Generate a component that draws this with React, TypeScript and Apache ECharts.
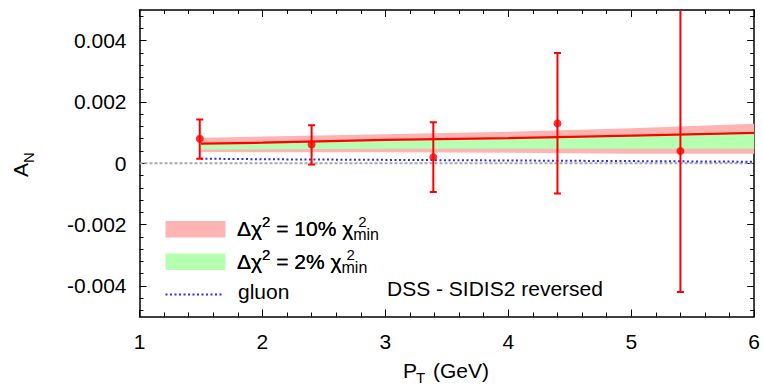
import React, { useEffect, useRef } from "react";
import * as echarts from "echarts";

// Transverse momentum grid for the model curves
const ptGrid = [1.5, 2, 3, 4, 5, 6];
// Central fit and uncertainty bands of A_N
const centralFit = [0.00064, 0.00067, 0.00076, 0.00082, 0.0009, 0.00099];
const band10Low = [0.00037, 0.00036, 0.00036, 0.00034, 0.00031, 0.00031];
const band10High = [0.00083, 0.00087, 0.00095, 0.00103, 0.00114, 0.00129];
const band2Low = [0.00045, 0.00046, 0.00047, 0.00047, 0.00047, 0.00047];
const band2High = [0.00066, 0.00069, 0.00078, 0.00085, 0.00094, 0.00104];
const gluonCurve = [0.00015, 0.00013, 0.00011, 0.00009, 0.00007, 0.00005];

// Measured points with error bars
const dataPt = [1.49, 2.4, 3.39, 4.4, 5.4];
const dataAN = [0.0008, 0.00061, 0.0002, 0.0013, 0.0004];
const dataLow = [0.00015, -0.00004, -0.00094, -0.00099, -0.0042];
const dataHigh = [0.00143, 0.00124, 0.00134, 0.0036, 0.0052];

// Axis ticks
const yMajorTicks = [-0.004, -0.002, 0, 0.002, 0.004];
const yMinorTicks = [
  -0.0048, -0.0044, -0.0036, -0.0032, -0.0028, -0.0024, -0.0016, -0.0012,
  -0.0008, -0.0004, 0.0004, 0.0008, 0.0012, 0.0016, 0.0024, 0.0028, 0.0032,
  0.0036, 0.0044, 0.0048,
];
const zeroLine = [
  [1, 0],
  [6, 0],
];

const FONT = "'Liberation Sans', Arial, Helvetica, sans-serif";
const RED = "#ff0000";
const PINK = "#ffb4b4";
const GREEN = "#b4ffb0";
const BLUE = "#2b2bff";

function bandSeries(name: string, low: number[], high: number[], color: string, z: number) {
  return {
    name,
    type: "custom",
    z,
    silent: true,
    encode: { x: 0, y: [1, 2] },
    data: ptGrid.map((x, i) => [x, low[i], high[i]]),
    renderItem: (params: any, api: any) => {
      if (params.dataIndex !== 0) return { type: "group", children: [] };
      const upper = ptGrid.map((x, i) => api.coord([x, high[i]]));
      const lower = ptGrid.map((x, i) => api.coord([x, low[i]])).reverse();
      return {
        type: "polygon",
        shape: { points: upper.concat(lower) },
        style: { fill: color, stroke: "none" },
      };
    },
  };
}

function yAxisDef(position: string, values: number[], len: number, main: boolean) {
  return {
    type: "value",
    position,
    min: -0.005,
    max: 0.005,
    splitLine: { show: false },
    axisLine: { show: main, onZero: false, lineStyle: { color: "#000", width: 1.5 } },
    axisTick: {
      show: true,
      inside: true,
      length: len,
      customValues: values,
      lineStyle: { color: "#000", width: 1 },
    },
    minorTick: { show: false },
    axisLabel:
      main && position === "left"
        ? {
            show: true,
            customValues: yMajorTicks,
            margin: 13,
            color: "#000",
            fontSize: 21,
            fontFamily: FONT,
            formatter: (v: number) => (Math.abs(v) < 1e-12 ? "0" : v.toFixed(3)),
          }
        : { show: false },
  };
}

function xAxisDef(position: string, labels: boolean) {
  return {
    type: "value",
    position,
    min: 1,
    max: 6,
    interval: 1,
    splitLine: { show: false },
    axisLine: { show: true, onZero: false, lineStyle: { color: "#000", width: 1.5 } },
    axisTick: { show: true, inside: true, length: 7, lineStyle: { color: "#000", width: 1 } },
    minorTick: { show: true, splitNumber: 5, length: 4, lineStyle: { color: "#000", width: 1 } },
    axisLabel: labels
      ? { show: true, margin: 14, color: "#000", fontSize: 21, fontFamily: FONT }
      : { show: false },
  };
}

const eqRich = {
  m: { fontSize: 21, lineHeight: 28, fontFamily: FONT, color: "#000" },
  sup: { fontSize: 15, lineHeight: 14, verticalAlign: "top", fontFamily: FONT, color: "#000" },
  sub: { fontSize: 16, lineHeight: 8, verticalAlign: "bottom", fontFamily: FONT, color: "#000" },
  g: { fontSize: 21, lineHeight: 28, fontFamily: FONT, color: "rgba(0,0,0,0)" },
  gs: { fontSize: 15, lineHeight: 14, verticalAlign: "top", fontFamily: FONT, color: "rgba(0,0,0,0)" },
  sup2: {
    fontSize: 15,
    lineHeight: 14,
    verticalAlign: "top",
    fontFamily: FONT,
    color: "#000",
    padding: [0, 0, 0, 5],
  },
};

function equation(pct: string, y: number) {
  return [
    {
      type: "text",
      x: 237,
      y,
      style: {
        text: `{m|Δχ}{sup|2}{m| = ${pct} χ}{sub|min}`,
        rich: eqRich,
        verticalAlign: "middle",
        align: "left",
      },
    },
    {
      type: "text",
      x: 237,
      y,
      style: {
        text: `{g|Δχ}{gs|2}{g| = ${pct} χ}{sup2|2}`,
        rich: eqRich,
        verticalAlign: "middle",
        align: "left",
      },
    },
  ];
}

export default function App() {
  const ref = useRef<HTMLDivElement>(null);

  useEffect(() => {
    if (!ref.current) return;
    const chart = echarts.init(ref.current, null, { renderer: "svg" });

    const option = {
      animation: false,
      backgroundColor: "#fff",
      grid: { left: 139.5, right: 7.5, top: 10, bottom: 68.5 },
      xAxis: [xAxisDef("bottom", true), xAxisDef("top", false)],
      yAxis: [
        yAxisDef("left", yMajorTicks, 7, true),
        yAxisDef("left", yMinorTicks, 4, false),
        yAxisDef("right", yMajorTicks, 7, true),
        yAxisDef("right", yMinorTicks, 4, false),
      ],
      series: [
        {
          name: "zero",
          type: "line",
          z: 1,
          data: zeroLine,
          symbol: "none",
          silent: true,
          lineStyle: { color: "#a8a8a8", width: 2, type: [3, 2] },
        },
        bandSeries("Δχ² = 10% χ²min", band10Low, band10High, PINK, 2),
        bandSeries("Δχ² = 2% χ²min", band2Low, band2High, GREEN, 3),
        {
          name: "central",
          type: "line",
          z: 4,
          data: ptGrid.map((x, i) => [x, centralFit[i]]),
          symbol: "none",
          lineStyle: { color: RED, width: 2.2 },
        },
        {
          name: "gluon",
          type: "line",
          z: 4,
          data: ptGrid.map((x, i) => [x, gluonCurve[i]]),
          symbol: "none",
          lineStyle: { color: BLUE, width: 2, type: [2, 2.5] },
        },
        {
          name: "errors",
          type: "custom",
          z: 5,
          clip: true,
          encode: { x: 0, y: [1, 2] },
          data: dataPt.map((x, i) => [x, dataLow[i], dataHigh[i]]),
          renderItem: (params: any, api: any) => {
            const lo = api.coord([api.value(0), api.value(1)]);
            const hi = api.coord([api.value(0), api.value(2)]);
            const w = 3.5;
            const style = { stroke: RED, lineWidth: 2 };
            return {
              type: "group",
              children: [
                { type: "line", shape: { x1: lo[0], y1: lo[1], x2: hi[0], y2: hi[1] }, style },
                { type: "line", shape: { x1: lo[0] - w, y1: lo[1], x2: lo[0] + w, y2: lo[1] }, style },
                { type: "line", shape: { x1: hi[0] - w, y1: hi[1], x2: hi[0] + w, y2: hi[1] }, style },
              ],
            };
          },
        },
        {
          name: "data",
          type: "scatter",
          z: 6,
          data: dataPt.map((x, i) => [x, dataAN[i]]),
          symbol: "circle",
          symbolSize: 8,
          itemStyle: { color: RED },
        },
      ],
      graphic: [
        // axis titles
        {
          type: "text",
          x: 20.5,
          y: 170,
          rotation: Math.PI / 2,
          style: { text: "A", fontSize: 21, fontFamily: FONT, fill: "#000", align: "center", verticalAlign: "middle" },
        },
        {
          type: "text",
          x: 28,
          y: 157.5,
          rotation: Math.PI / 2,
          style: { text: "N", fontSize: 15, fontFamily: FONT, fill: "#000", align: "center", verticalAlign: "middle" },
        },
        {
          type: "text",
          x: 403,
          y: 370,
          style: { text: "P", fontSize: 21, fontFamily: FONT, fill: "#000", align: "left", verticalAlign: "middle" },
        },
        {
          type: "text",
          x: 416,
          y: 377,
          style: { text: "T", fontSize: 15, fontFamily: FONT, fill: "#000", align: "left", verticalAlign: "middle" },
        },
        {
          type: "text",
          x: 433,
          y: 370,
          style: { text: "(GeV)", fontSize: 21, fontFamily: FONT, fill: "#000", align: "left", verticalAlign: "middle" },
        },
        // legend keys
        { type: "rect", shape: { x: 165.5, y: 221, width: 60, height: 16.5 }, style: { fill: PINK } },
        { type: "rect", shape: { x: 165.5, y: 253.5, width: 60, height: 16.5 }, style: { fill: GREEN } },
        {
          type: "line",
          shape: { x1: 165.5, y1: 294.5, x2: 224, y2: 294.5 },
          style: { stroke: BLUE, lineWidth: 2, lineDash: [2, 2.5] },
        },
        ...equation("10%", 228),
        ...equation("2%", 261),
        {
          type: "text",
          x: 238,
          y: 291,
          style: { text: "gluon", fontSize: 21, fontFamily: FONT, fill: "#000", align: "left", verticalAlign: "middle" },
        },
        {
          type: "text",
          x: 387,
          y: 288,
          style: {
            text: "DSS - SIDIS2 reversed",
            fontSize: 21,
            fontFamily: FONT,
            fill: "#000",
            align: "left",
            verticalAlign: "middle",
          },
        },
      ],
    };

    chart.setOption(option as any);
    return () => chart.dispose();
  }, []);

  return (
    <div
      ref={ref}
      style={{ position: "fixed", left: 0, top: 0, width: 763, height: 385, background: "#fff" }}
    />
  );
}
